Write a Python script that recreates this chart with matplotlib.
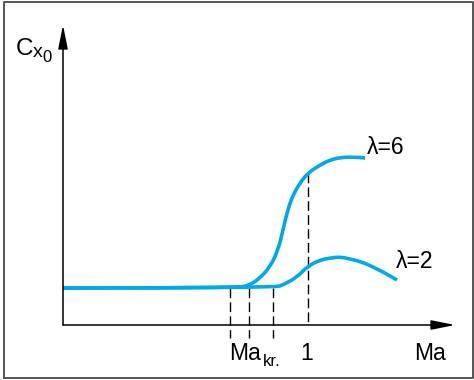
import matplotlib
matplotlib.use("Agg")
import matplotlib.pyplot as plt
from matplotlib.lines import Line2D
from matplotlib.path import Path
from matplotlib.patches import PathPatch

plt.rcParams['font.family'] = ['Liberation Sans', 'DejaVu Sans']
plt.rcParams['lines.scale_dashes'] = False

# ---- data (Ma, Cx0 in arbitrary units) ----
flat_level = 0.2
ma_lam6 = [0.0, 0.710, 0.763, 0.804, 0.845, 0.878, 0.898, 0.914, 0.935, 0.967,
           1.000, 1.049, 1.090, 1.131, 1.180, 1.233]
cx_lam6 = [0.2, 0.200, 0.216, 0.254, 0.314, 0.405, 0.514, 0.605, 0.692, 0.768,
           0.822, 0.865, 0.892, 0.905, 0.908, 0.903]
ma_lam2 = [0.0, 0.865, 0.906, 0.955, 1.000, 1.049, 1.090, 1.131, 1.171, 1.220,
           1.265, 1.314, 1.363]
cx_lam2 = [0.2, 0.200, 0.222, 0.259, 0.319, 0.351, 0.362, 0.368, 0.357, 0.341,
           0.314, 0.281, 0.243]
ma_kr_marks = [0.682, 0.759, 0.857]
ma_one = 1.0
cx_at_one = 0.822
labels = {"lam6": "λ=6", "lam2": "λ=2", "x": "Ma", "one": "1"}

W, H = 474, 380
fig = plt.figure(figsize=(W / 100, H / 100), dpi=100)

def fx(x):
    return x / W

def fy(y):
    return 1 - y / H

# frame
fig.add_artist(Line2D([fx(4), fx(4), fx(473), fx(473), fx(4)],
                      [fy(378), fy(2), fy(2), fy(378), fy(378)],
                      color='#555555', lw=1.4, transform=fig.transFigure))

ax = fig.add_axes([fx(63), fy(325), (455 - 63) / W, (325 - 25) / H])
ax.set_xlim(0, 1.6)
ax.set_ylim(0, 300 / 185)
ax.axis('off')

blue = '#00A9E6'


def smooth_path(xs, ys):
    pts = list(zip(xs, ys))
    verts = [pts[0]]
    codes = [Path.MOVETO]
    for i in range(1, len(pts) - 1):
        mid = ((pts[i][0] + pts[i + 1][0]) / 2, (pts[i][1] + pts[i + 1][1]) / 2)
        verts += [pts[i], mid]
        codes += [Path.CURVE3, Path.CURVE3]
    verts.append(pts[-1])
    codes.append(Path.LINETO)
    return Path(verts, codes)


for xs, ys in [(ma_lam6, cx_lam6), (ma_lam2, cx_lam2)]:
    ax.add_patch(PathPatch(smooth_path(xs, ys), fill=False, edgecolor=blue,
                           lw=2.6, capstyle='butt', joinstyle='round',
                           clip_on=False, zorder=3))

# dashed guides
for m in ma_kr_marks:
    ax.plot([m, m], [flat_level, -0.07], color='black', lw=1.0,
            linestyle=(0, (7, 3)), clip_on=False, zorder=2)
ax.plot([ma_one, ma_one], [cx_at_one, 0], color='black', lw=1.0,
        linestyle=(0, (7, 3)), clip_on=False, zorder=2)

# axes with arrows
arrow = dict(arrowstyle='-|>,head_length=1.0,head_width=0.2', mutation_scale=14.4,
             color='black', lw=1.1, shrinkA=0, shrinkB=0)
ax.annotate('', xy=(1, 0), xytext=(0, 0), xycoords='axes fraction',
            textcoords='axes fraction', arrowprops=arrow)
ax.annotate('', xy=(0, 1), xytext=(0, 0), xycoords='axes fraction',
            textcoords='axes fraction', arrowprops=arrow)

fs = 16.5
fig.text(fx(414), fy(360), labels["x"], fontsize=fs, va='baseline', ha='left')
fig.text(fx(229), fy(360), "Ma", fontsize=fs, va='baseline', ha='left')
fig.text(fx(263), fy(366), "kr.", fontsize=12, va='baseline', ha='left')
fig.text(fx(307), fy(360), labels["one"], fontsize=fs, va='baseline', ha='center')
fig.text(fx(367), fy(154), labels["lam6"], fontsize=fs, va='baseline', ha='left')
fig.text(fx(396), fy(268), labels["lam2"], fontsize=fs, va='baseline', ha='left')
fig.text(fx(16), fy(55), "C", fontsize=17.5, va='baseline', ha='left')
fig.text(fx(32.5), fy(57), "x", fontsize=14, va='baseline', ha='left')
fig.text(fx(42.5), fy(62), "0", fontsize=12, va='baseline', ha='left')

fig.savefig('out.png', dpi=100)
